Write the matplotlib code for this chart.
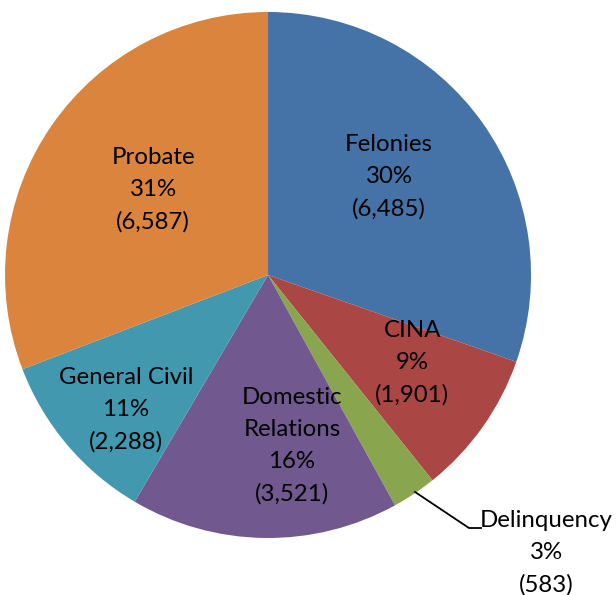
import matplotlib.pyplot as plt

# case counts by type
categories = ['Felonies', 'CINA', 'Delinquency', 'Domestic\nRelations', 'General Civil', 'Probate']
counts = [6485, 1901, 583, 3521, 2288, 6587]
colors = ['#4572A7', '#AA4643', '#89A54E', '#71588F', '#4198AF', '#DB843D']

# label centres in pie units (radius = 1)
label_pos = [(0.460, 0.373), (0.548, -0.335), (1.057, -1.057),
             (0.091, -0.650), (-0.540, -0.513), (-0.437, 0.323)]

plt.rcParams['font.family'] = ['Lato', 'DejaVu Sans']

fig = plt.figure(figsize=(6.16, 5.95), dpi=100)
ax = fig.add_axes([0, 0, 1, 1])
ax.pie(counts, colors=colors, startangle=90, counterclock=False,
       radius=1.0, wedgeprops={'linewidth': 0})
ax.set_xlim(-1.019, 1.323)
ax.set_ylim(-1.2167, 1.0456)
ax.set_aspect('equal')
ax.axis('off')

total = sum(counts)
for name, val, (x, y) in zip(categories, counts, label_pos):
    pct = round(100 * val / total)
    ax.text(x, y, f'{name}\n{pct}%\n({val:,})', ha='center', va='center',
            fontsize=17.3, linespacing=1.63, color='black')

# leader line for the small slice
ax.plot([0.559, 0.764, 0.810], [-0.825, -0.962, -0.962], color='black', lw=1.3)

fig.savefig('out.png', dpi=100)
